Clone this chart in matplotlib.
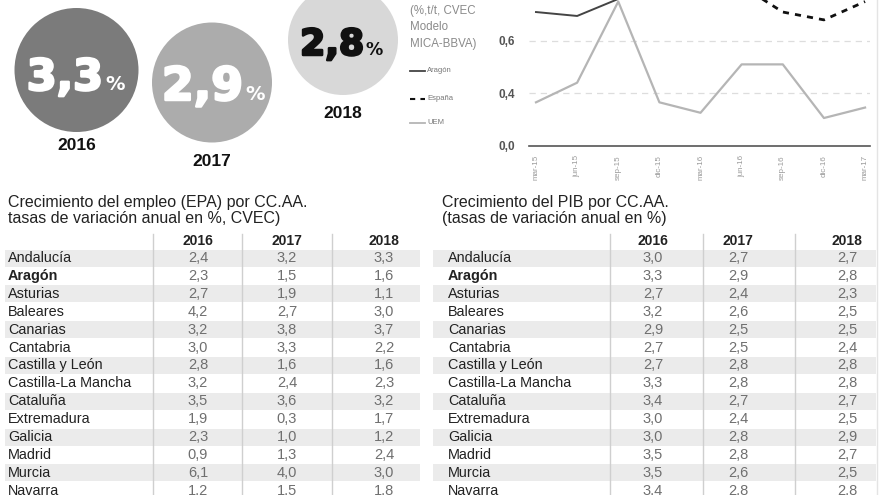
import numpy as np
import matplotlib
matplotlib.use("Agg")
import matplotlib.pyplot as plt
from matplotlib.patches import Circle, Rectangle
import matplotlib.patheffects as pe

# ---------------- data ----------------
big_years = ["2016", "2017", "2018"]
big_values = ["3,3", "2,9", "2,8"]

periods = ["mar-15", "jun-15", "sep-15", "dic-15", "mar-16", "jun-16", "sep-16", "dic-16", "mar-17"]
aragon = [0.71, 0.695, 0.76, 0.90, 0.88, 0.86, 0.88, 0.90, 0.92]
espana = [0.90, 0.88, 0.86, 0.84, 0.83, 0.81, 0.71, 0.68, 0.75]
uem = [0.33, 0.44, 0.75, 0.33, 0.25, 0.51, 0.51, 0.21, 0.29]
y_ticks = [0.0, 0.4, 0.6]
y_ticklabels = ["0,0", "0,4", "0,6"]

regions = ["Andalucía", "Aragón", "Asturias", "Baleares", "Canarias", "Cantabria",
           "Castilla y León", "Castilla-La Mancha", "Cataluña", "Extremadura",
           "Galicia", "Madrid", "Murcia", "Navarra"]
table_years = ["2016", "2017", "2018"]
empleo_2016 = [2.4, 2.3, 2.7, 4.2, 3.2, 3.0, 2.8, 3.2, 3.5, 1.9, 2.3, 0.9, 6.1, 1.2]
empleo_2017 = [3.2, 1.5, 1.9, 2.7, 3.8, 3.3, 1.6, 2.4, 3.6, 0.3, 1.0, 1.3, 4.0, 1.5]
empleo_2018 = [3.3, 1.6, 1.1, 3.0, 3.7, 2.2, 1.6, 2.3, 3.2, 1.7, 1.2, 2.4, 3.0, 1.8]
pib_2016 = [3.0, 3.3, 2.7, 3.2, 2.9, 2.7, 2.7, 3.3, 3.4, 3.0, 3.0, 3.5, 3.5, 3.4]
pib_2017 = [2.7, 2.9, 2.4, 2.6, 2.5, 2.5, 2.8, 2.8, 2.7, 2.4, 2.8, 2.8, 2.6, 2.8]
pib_2018 = [2.7, 2.8, 2.3, 2.5, 2.5, 2.4, 2.8, 2.8, 2.7, 2.5, 2.9, 2.7, 2.5, 2.8]

# ---------------- figure ----------------
W, H = 880, 495
fig = plt.figure(figsize=(W / 100, H / 100), dpi=100)
fig.patch.set_facecolor("white")
plt.rcParams["font.family"] = ["Liberation Sans", "DejaVu Sans"]

bg = fig.add_axes([0, 0, 1, 1])
bg.set_xlim(0, W)
bg.set_ylim(H, 0)
bg.axis("off")

# ---- big circles ----
circ_specs = [  # (cx, cy, r, face, textcolor, fontsize, pct_size, baseline, split_x, year_y)
    (76.5, 70, 62, "#7b7b7b", "white", 31, 14, 90, 104, 145),
    (212, 82.5, 60, "#acacac", "white", 33, 14, 100, 244, 161),
    (343, 40, 55, "#d8d8d8", "#111111", 26, 12.5, 55, 365, 113),
]
for (cx, cy, r, fc, tc, fs, ps, base, sx, yy), val, yr in zip(circ_specs, big_values, big_years):
    bg.add_patch(Circle((cx, cy), r, facecolor=fc, edgecolor="none"))
    t = bg.text(sx - 1, base, val, ha="right", va="baseline", fontsize=fs,
                fontweight="bold", color=tc, family="DejaVu Sans")
    t.set_path_effects([pe.Stroke(linewidth=1.8, foreground=tc), pe.Normal()])
    bg.text(sx + 1, base, "%", ha="left", va="baseline", fontsize=ps,
            fontweight="bold", color=tc, family="DejaVu Sans")
    bg.text(cx, yy, yr, ha="center", va="center", fontsize=12.5,
            fontweight="bold", color="#111111")

# ---- line chart legend text ----
leg_col = "#8a8a8a"
for i, s in enumerate(["(%,t/t, CVEC", "Modelo", "MICA-BBVA)"]):
    bg.text(410, 11 + i * 16.5, s, ha="left", va="center", fontsize=8.3, color=leg_col)
leg_items = [("Aragón", "#444444", "-", 1.3, 71),
             ("España", "#111111", (0, (2.5, 2.5)), 1.5, 99),
             ("UEM", "#b5b5b5", "-", 1.3, 123)]
for name, c, ls, lw, y in leg_items:
    bg.plot([410, 425], [y, y], color=c, linestyle=ls, linewidth=lw)
    bg.text(427, y, name, ha="left", va="center", fontsize=5.5, color="#777777")

# ---- tables ----
row_y0, pitch = 258, 17.9
stripe_c = "#ebebeb"
sep_c = "#cfcfcf"
val_c = "#6f6f6f"
lab_c = "#222222"

def draw_table(x0, x1, title_x, titles, lab_x, col_x, sep_x, cols):
    for i, s in enumerate(titles):
        bg.text(title_x, 202 + i * 16, s, ha="left", va="center", fontsize=11.5, color="#222222")
    for i in range(len(regions)):
        y = row_y0 + i * pitch
        if i % 2 == 0:
            bg.add_patch(Rectangle((x0, y - 8.5), x1 - x0, 17, facecolor=stripe_c,
                                   edgecolor="none", zorder=0))
    for sx in sep_x:
        bg.plot([sx, sx], [234, H], color=sep_c, linewidth=1, zorder=1)
    for cx, yr in zip(col_x, table_years):
        bg.text(cx, 241, yr, ha="center", va="center", fontsize=10,
                fontweight="bold", color="#222222", zorder=2)
    for i, reg in enumerate(regions):
        y = row_y0 + i * pitch
        bg.text(lab_x, y, reg, ha="left", va="center", fontsize=10.4, color=lab_c,
                fontweight="bold" if reg == "Aragón" else "normal", zorder=2)
        for cx, col in zip(col_x, cols):
            bg.text(cx, y, f"{col[i]:.1f}".replace(".", ","), ha="center", va="center",
                    fontsize=10.5, color=val_c, zorder=2)

draw_table(5, 420, 8,
           ["Crecimiento del empleo (EPA) por CC.AA.", "tasas de variación anual en %, CVEC)"],
           8, [198, 287, 384], [153, 242, 332], [empleo_2016, empleo_2017, empleo_2018])
draw_table(433, 876, 442,
           ["Crecimiento del PIB por CC.AA.", "(tasas de variación anual en %)"],
           448, [653, 738, 847], [610, 703, 795], [pib_2016, pib_2017, pib_2018])

# faint frame line on right edge
bg.plot([877, 877], [0, H], color="#e4e4e4", linewidth=1)

# ---------------- line chart ----------------
def fwd(v):
    v = np.asarray(v, dtype=float)
    return np.where(v <= 0.4, v / 0.4, 1 + (v - 0.4) / 0.2)

def inv(u):
    u = np.asarray(u, dtype=float)
    return np.where(u <= 1, u * 0.4, 0.4 + (u - 1) * 0.2)

left_px, right_px, bottom_px = 529, 870, 145.5
ax = fig.add_axes([left_px / W, 1 - bottom_px / H, (right_px - left_px) / W, bottom_px / H])
ax.set_facecolor("none")
ax.set_yscale("function", functions=(fwd, inv))
x = np.arange(len(periods))
ax.plot(x, uem, color="#b5b5b5", linewidth=1.6)
ax.plot(x, aragon, color="#444444", linewidth=1.4)
ax.plot(x, espana, color="#111111", linewidth=2.0, linestyle=(0, (2.2, 2.2)))
ax.set_xlim(-0.17, 8.12)
ax.set_ylim(0, 0.756)
for yv in y_ticks[1:]:
    ax.axhline(yv, color="#dddddd", linewidth=0.9, linestyle=(0, (5, 4)), zorder=0)
ax.set_yticks(y_ticks)
ax.set_yticklabels(y_ticklabels, fontsize=8.5, fontweight="bold", color="#555555")
ax.set_xticks(x)
ax.set_xticklabels(periods, rotation=90, fontsize=5.8, color="#9a9a9a", va="top")
ax.tick_params(axis="both", length=0, pad=7)
ax.tick_params(axis="y", pad=10)
for s in ["top", "right", "left"]:
    ax.spines[s].set_visible(False)
ax.spines["bottom"].set_color("#555555")
ax.spines["bottom"].set_linewidth(1.2)

fig.savefig("out.png", dpi=100, facecolor="white")
